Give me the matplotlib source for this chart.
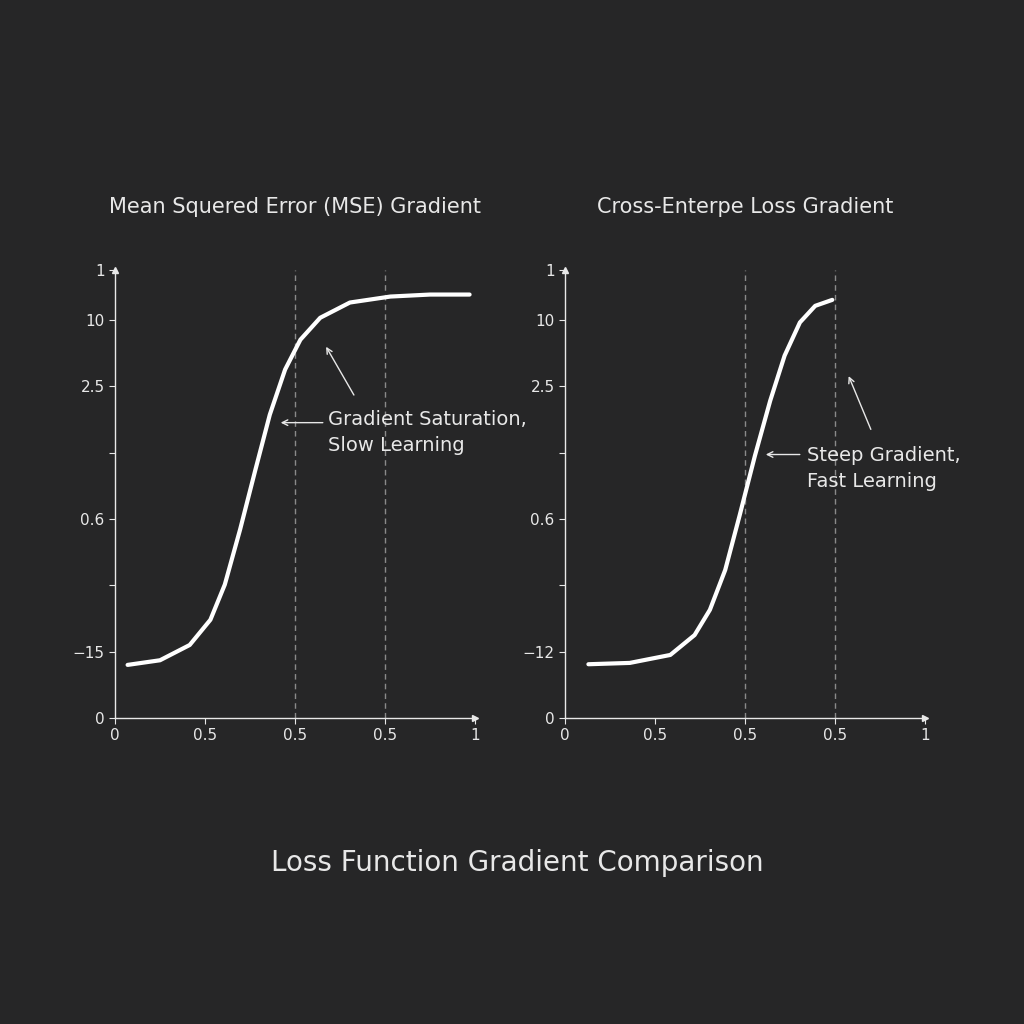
import matplotlib
matplotlib.use("Agg")
import matplotlib.pyplot as plt

BG = "#262627"
FG = "#e8e8e8"

yticks_pos = [0, 1, 2, 3, 4, 5, 6, 6.75]
left_ylabels = ["0", "\u221215", "", "0.6", "", "2.5", "10", "1"]
right_ylabels = ["0", "\u221212", "", "0.6", "", "2.5", "10", "1"]
xticks_pos = [0, 1, 2, 3, 4]
xlabels = ["0", "0.5", "0.5", "0.5", "1"]

mse_x = [0.14, 0.5, 0.83, 1.06, 1.22, 1.39, 1.56, 1.72, 1.89, 2.06, 2.28, 2.61, 3.06, 3.5, 3.94]
mse_y = [0.80, 0.87, 1.10, 1.48, 2.01, 2.84, 3.74, 4.57, 5.25, 5.70, 6.03, 6.26, 6.35, 6.38, 6.38]
ce_x = [0.26, 0.72, 1.17, 1.44, 1.61, 1.78, 1.94, 2.11, 2.28, 2.44, 2.61, 2.78, 2.97]
ce_y = [0.81, 0.83, 0.95, 1.25, 1.63, 2.23, 3.05, 3.95, 4.78, 5.46, 5.96, 6.21, 6.30]

fig = plt.figure(figsize=(10.24, 10.24), dpi=100, facecolor=BG)

def make_ax(left_px, title, xs, ys, ylabels, vlines, ann):
    ax = fig.add_axes([left_px / 1024, (1024 - 718) / 1024, 360 / 1024, 448 / 1024])
    ax.set_facecolor(BG)
    ax.set_xlim(0, 4)
    ax.set_ylim(0, 6.75)
    for s in ["top", "right"]:
        ax.spines[s].set_visible(False)
    for s in ["left", "bottom"]:
        ax.spines[s].set_color(FG)
        ax.spines[s].set_linewidth(1.0)
    ax.plot([4], [0], marker=">", color=FG, markersize=5, clip_on=False)
    ax.plot([0], [6.75], marker="^", color=FG, markersize=5, clip_on=False)
    ax.set_xticks(xticks_pos)
    ax.set_xticklabels(xlabels)
    ax.set_yticks(yticks_pos)
    ax.set_yticklabels(ylabels)
    ax.tick_params(colors=FG, labelsize=11, length=4, width=0.8)
    for v in vlines:
        ax.axvline(v, color="#8a8a8a", linestyle=(0, (4, 3)), linewidth=1)
    ax.plot(xs, ys, color="white", linewidth=3, solid_capstyle="round")
    ax.text(2.0, 7.7, title, color=FG, fontsize=15, ha="center", va="center")
    (t1, h1, tx, ty, text, t2, h2) = ann
    ax.annotate("", xy=h1, xytext=t1,
                arrowprops=dict(arrowstyle="->", color=FG, lw=1))
    ax.annotate("", xy=h2, xytext=t2,
                arrowprops=dict(arrowstyle="->", color=FG, lw=1))
    ax.text(tx, ty, text, color=FG, fontsize=14, ha="left", va="center", linespacing=1.5)
    return ax

make_ax(115, "Mean Squered Error (MSE) Gradient", mse_x, mse_y, left_ylabels, [2, 3],
        ((2.67, 4.83), (2.33, 5.63), 2.37, 4.30, "Gradient Saturation,\nSlow Learning",
         (2.34, 4.45), (1.81, 4.45)))
make_ax(565, "Cross-Enterpe Loss Gradient", ce_x, ce_y, right_ylabels, [2, 3],
        ((3.41, 4.31), (3.14, 5.19), 2.69, 3.76, "Steep Gradient,\nFast Learning",
         (2.64, 3.97), (2.2, 3.97)))

fig.text(0.505, 1 - 863 / 1024, "Loss Function Gradient Comparison", color=FG,
         fontsize=20, ha="center", va="center")

fig.savefig("out.png", dpi=100, facecolor=BG)
